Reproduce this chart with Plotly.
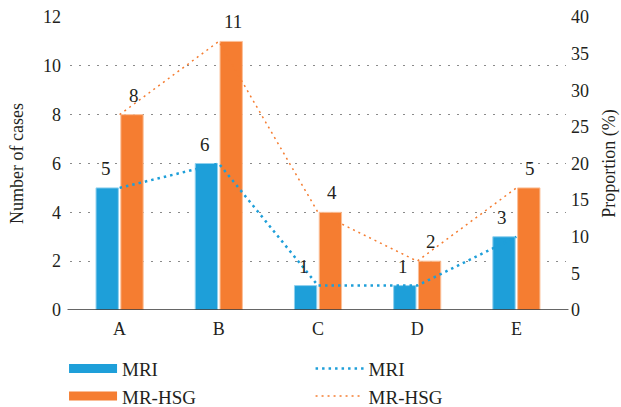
import plotly.graph_objects as go

# Case counts per category
categories = ["A", "B", "C", "D", "E"]
mri_cases = [5, 6, 1, 1, 3]
mrhsg_cases = [8, 11, 4, 2, 5]

# Proportions (%) on the secondary axis
mri_prop = [16.67, 20.0, 3.33, 3.33, 10.0]
mrhsg_prop = [26.67, 36.67, 13.33, 6.67, 16.67]

left_ticks = [0, 2, 4, 6, 8, 10, 12]
right_ticks = [0, 5, 10, 15, 20, 25, 30, 35, 40]

BLUE = "#1E9FD9"
ORANGE = "#F57D31"
FONT = "Liberation Serif, Times New Roman, serif"
TXT = "#231F20"

fig = go.Figure()

fig.add_trace(go.Bar(
    x=categories, y=mri_cases, name="MRI",
    marker=dict(color=BLUE, line=dict(color="#8fd0ee", width=1)),
    showlegend=False,
))
fig.add_trace(go.Bar(
    x=categories, y=mrhsg_cases, name="MR-HSG",
    marker=dict(color=ORANGE, line=dict(color="#fbbf97", width=1)),
    showlegend=False,
))

fig.add_trace(go.Scatter(
    x=categories, y=mri_prop, name="MRI", yaxis="y2", mode="lines",
    line=dict(color=BLUE, width=2.5, dash="2.5px,4px"),
    legend="legend2", cliponaxis=False,
))
fig.add_trace(go.Scatter(
    x=categories, y=mrhsg_prop, name="MR-HSG", yaxis="y2", mode="lines",
    line=dict(color=ORANGE, width=1.5, dash="2px,4px"),
    legend="legend2", cliponaxis=False,
))

# Legend swatches for the bar series
fig.add_trace(go.Scatter(
    x=[None], y=[None], name="MRI", mode="lines",
    line=dict(color=BLUE, width=9), legend="legend",
))
fig.add_trace(go.Scatter(
    x=[None], y=[None], name="MR-HSG", mode="lines",
    line=dict(color=ORANGE, width=9), legend="legend",
))

# Value labels above each bar (bars sit 14 px either side of the category centre)
annotations = []
for values, shift in ((mri_cases, -14), (mrhsg_cases, 14)):
    for cat, v in zip(categories, values):
        annotations.append(dict(
            x=cat, y=v, xref="x", yref="y", text=str(v), showarrow=False,
            xshift=shift, yshift=7, yanchor="bottom",
            font=dict(family=FONT, size=19, color=TXT),
        ))

legend_common = dict(
    orientation="v", xanchor="left", yanchor="top",
    font=dict(family=FONT, size=19, color=TXT),
    bgcolor="rgba(0,0,0,0)", tracegroupgap=0, itemwidth=48,
)

fig.update_layout(
    width=621, height=407,
    margin=dict(l=70, r=55, t=17, b=97, autoexpand=False),
    paper_bgcolor="white", plot_bgcolor="white",
    barmode="group", bargap=0.5, bargroupgap=0.1,
    font=dict(family=FONT, size=18, color=TXT),
    xaxis=dict(
        showgrid=False, ticks="", showline=False, ticklabelstandoff=6,
        tickfont=dict(family=FONT, size=18, color=TXT),
    ),
    yaxis=dict(
        range=[0, 12], tickvals=left_ticks,
        showgrid=True, gridcolor="#8a8a8a", gridwidth=1, griddash="2px,7px",
        zeroline=False, showline=False, ticks="", ticklabelstandoff=8,
        tickfont=dict(family=FONT, size=18, color=TXT),
        title=dict(text="Number of cases", font=dict(family=FONT, size=18, color=TXT), standoff=14),
    ),
    yaxis2=dict(
        range=[0, 40], tickvals=right_ticks, overlaying="y", side="right",
        showgrid=False, zeroline=False, showline=False, ticks="", ticklabelstandoff=4,
        tickfont=dict(family=FONT, size=18, color=TXT),
        title=dict(text="Proportion (%)", font=dict(family=FONT, size=18, color=TXT), standoff=14),
    ),
    legend=dict(x=-0.012, y=-0.135, **legend_common),
    legend2=dict(x=0.485, y=-0.135, **legend_common),
    annotations=annotations,
    shapes=[dict(
        type="line", xref="paper", yref="y", x0=-0.005, x1=1.005, y0=0, y1=0,
        line=dict(color="#333333", width=1.5),
    )],
)

fig.write_html("out.html")
